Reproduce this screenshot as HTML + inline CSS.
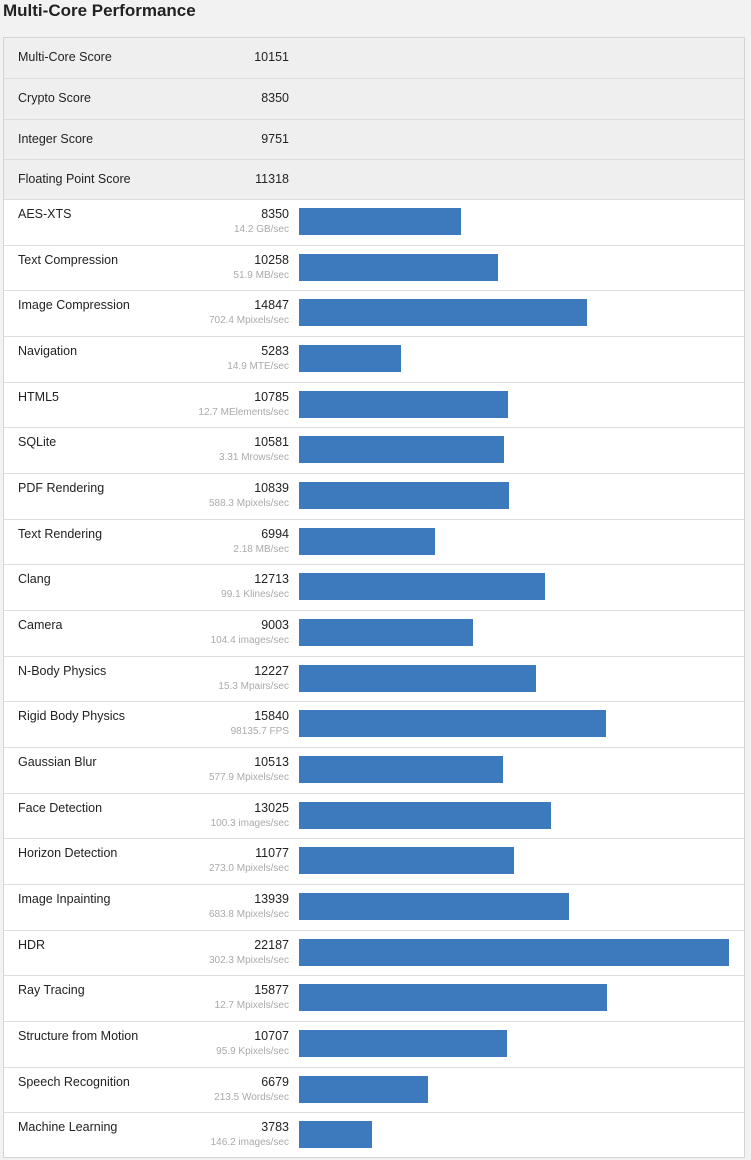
<!DOCTYPE html>
<html><head><meta charset="utf-8"><style>
body{margin:0;width:751px;height:1160px;background:#f2f2f2;font-family:"Liberation Sans",sans-serif;position:relative;overflow:hidden}
#title{position:absolute;left:3px;top:1px;font-size:17px;font-weight:bold;color:#222}
#tbl{position:absolute;left:3px;top:37px;width:740px;height:1119px;background:#fff;border:1px solid #d4d4d4}
.row{position:absolute;left:0;width:740px;border-top:1px solid #dcdcdc;box-sizing:border-box}
.sum{background:#efefef;height:40.5px}
.nm{position:absolute;left:14px;font-size:12.5px;color:#222}
.sc{position:absolute;right:455px;font-size:12.5px;color:#222;text-align:right}
.un{position:absolute;right:455px;font-size:10px;color:#aaa;text-align:right}
.bar{position:absolute;left:295px;height:27px;background:#3d7abd}
</style></head><body>
<div id="title">Multi-Core Performance</div>
<div id="tbl"></div>
<script>
const summaryNames=["Multi-Core Score","Crypto Score","Integer Score","Floating Point Score"];
const summaryScores=[10151,8350,9751,11318];
const benchNames=["AES-XTS","Text Compression","Image Compression","Navigation","HTML5","SQLite","PDF Rendering","Text Rendering","Clang","Camera","N-Body Physics","Rigid Body Physics","Gaussian Blur","Face Detection","Horizon Detection","Image Inpainting","HDR","Ray Tracing","Structure from Motion","Speech Recognition","Machine Learning"];
const benchScores=[8350,10258,14847,5283,10785,10581,10839,6994,12713,9003,12227,15840,10513,13025,11077,13939,22187,15877,10707,6679,3783];
const benchUnits=["14.2 GB/sec","51.9 MB/sec","702.4 Mpixels/sec","14.9 MTE/sec","12.7 MElements/sec","3.31 Mrows/sec","588.3 Mpixels/sec","2.18 MB/sec","99.1 Klines/sec","104.4 images/sec","15.3 Mpairs/sec","98135.7 FPS","577.9 Mpixels/sec","100.3 images/sec","273.0 Mpixels/sec","683.8 Mpixels/sec","302.3 Mpixels/sec","12.7 Mpixels/sec","95.9 Kpixels/sec","213.5 Words/sec","146.2 images/sec"];
const tbl=document.getElementById('tbl');
const maxScore=Math.max(...benchScores);
function xw(v){return v/maxScore*430;}
summaryNames.forEach((n,i)=>{
  const r=document.createElement('div');r.className='row sum';r.style.top=(i*40.3)+'px';
  if(i===0)r.style.borderTop='none';
  
  
  r.innerHTML='<span class="nm" style="top:12px">'+n+'</span><span class="sc" style="top:12px">'+summaryScores[i]+'</span>';
  tbl.appendChild(r);
});
const rh=45.67;
benchNames.forEach((n,i)=>{
  const r=document.createElement('div');r.className='row';r.style.top=(161+i*rh)+'px';r.style.height=rh+'px';
  
  
  r.innerHTML='<span class="nm" style="top:7px">'+n+'</span><span class="sc" style="top:7px">'+benchScores[i]+'</span><span class="un" style="top:24px">'+benchUnits[i]+'</span>';
  const b=document.createElement('div');b.className='bar';b.style.top='8px';b.style.width=xw(benchScores[i])+'px';
  
  
  r.appendChild(b);
  tbl.appendChild(r);
});
</script>
</body></html>
